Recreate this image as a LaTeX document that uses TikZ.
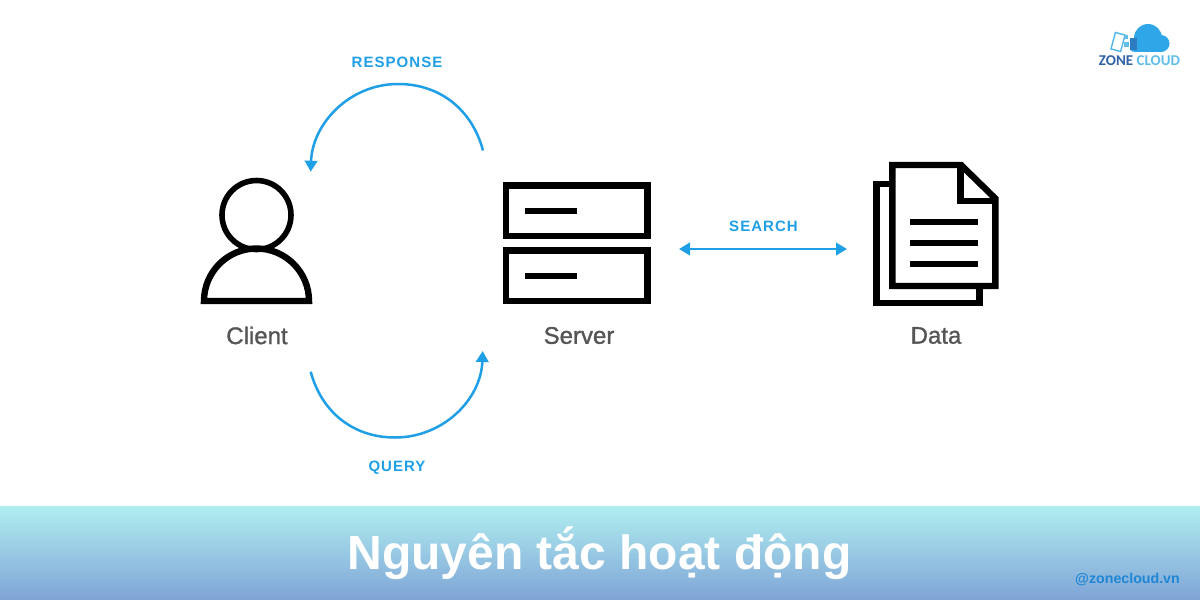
\documentclass[tikz,border=0pt]{standalone}
\usepackage{fontspec}
\setmainfont{Liberation Sans}
\newfontfamily\lblfont[FakeBold=1.2]{Liberation Sans}
\newfontfamily\capfont[LetterSpace=7]{Liberation Sans}
\newfontfamily\logofont{Carlito}
\usetikzlibrary{arrows.meta}
\definecolor{arrowblue}{HTML}{1F9FE6}
\definecolor{lblgray}{HTML}{555555}
\definecolor{bandtop}{HTML}{B0EEF0}
\definecolor{bandbot}{HTML}{7FA4D6}
\definecolor{cloudblue}{HTML}{2FA6E8}
\definecolor{zonedark}{HTML}{2F62A6}
\definecolor{zonelight}{HTML}{62BDEB}
\definecolor{handleblue}{HTML}{1E86D6}
\tikzset{
  icon/.style={line width=6.4pt,draw=black,line join=miter},
  srvbox/.style={icon,rectangle,inner sep=0pt,minimum width=141.6pt,minimum height=50.3pt},
  lbl/.style={font=\lblfont\fontsize{24}{28}\selectfont,text=lblgray},
  arrlbl/.style={font=\capfont\bfseries\fontsize{15}{18}\selectfont,text=arrowblue},
  flow/.style={line width=2.5pt,draw=arrowblue,-{Triangle[length=11pt,width=12.5pt]}},
}
\begin{document}
\begin{tikzpicture}[x=1pt,y=-1pt]
  \useasboundingbox (0,0) rectangle (1200,600);
  \fill[white] (0,0) rectangle (1200,600);
  \shade[top color=bandtop,bottom color=bandbot] (0,506) rectangle (1200,600);

  % client
  \draw[icon,line width=5.6pt] (256.5,215) circle[radius=34.5pt];
  \draw[icon] (204,301) arc[start angle=180,end angle=0,radius=52.5pt] -- cycle;

  % server
  \node[srvbox] (srv1) at (576.5,210.8) {};
  \node[srvbox] (srv2) at (576.5,275.8) {};
  \draw[icon] (524.7,210.7) -- (576.7,210.7);
  \draw[icon] (524.7,275.7) -- (576.7,275.7);

  % data
  \draw[icon] (889,183.7) -- (876.3,183.7) -- (876.3,302.7) -- (979.3,302.7) -- (979.3,286);
  \draw[icon] (892.3,165) -- (961,165) -- (995.3,198.5) -- (995.3,286) -- (892.3,286) -- cycle;
  \draw[icon] (960.3,165) -- (960.3,200.7) -- (995.3,200.7);
  \draw[icon] (910,221.7) -- (978,221.7);
  \draw[icon] (910,242.7) -- (978,242.7);
  \draw[icon] (910,263.7) -- (978,263.7);

  \node[lbl] (client) at (257,335.5) {Client};
  \node[lbl] (server) at (579,335.5) {Server};
  \node[lbl] (data) at (936,335.5) {Data};

  \node[arrlbl] (response) at (397,62) {RESPONSE};
  \node[arrlbl] (search) at (763.5,226) {SEARCH};
  \node[arrlbl] (query) at (397,467.5) {QUERY};

  \coordinate (respstart) at (483,150.5);
  \coordinate (resptop) at (398,84);
  \coordinate (respend) at (310.7,171.7);
  \coordinate (querystart) at (310.7,371.7);
  \coordinate (querybot) at (395,437.5);
  \coordinate (queryend) at (482.7,351);
  \coordinate (searchl) at (679,249);
  \coordinate (searchr) at (847,249);

  \draw[flow] (respstart) to[out=105,in=0] (resptop) to[out=180,in=88] (respend);
  \draw[flow] (querystart) to[out=-75,in=180] (querybot) to[out=0,in=-92] (queryend);
  \draw[flow,{Triangle[length=11pt,width=12.5pt]}-{Triangle[length=11pt,width=12.5pt]}] (searchl) -- (searchr);

  % logo
  \fill[cloudblue] (1148,38) circle[radius=14pt] (1161,43.5) circle[radius=8.5pt] (1135,45.5) circle[radius=6.5pt];
  \fill[cloudblue] (1135,42) rectangle (1161,52);
  \fill[white] (1122,33) rectangle (1129.5,53);
  \draw[zonelight!70!cloudblue,line width=1.4pt,rotate around={-15:(1118,42)}] (1113,33.5) rectangle (1123,50.5);
  \fill[zonedark!60!cloudblue] (1130,38) rectangle (1137,50);
  \fill[zonelight] (1124,35) rectangle (1128,39);
  \fill[zonelight] (1124,42) rectangle (1128.5,47);
  \node[font=\logofont\bfseries\fontsize{15}{18}\selectfont,inner sep=0pt] (logotxt) at (1139.5,60.2)
    {\textcolor{zonedark}{ZONE} \textcolor{zonelight}{CLOUD}};

  % band text
  \node[font=\bfseries\fontsize{48}{54}\selectfont,text=white] (title) at (599.5,553) {Nguyên tắc hoạt động};
  \node[font=\bfseries\fontsize{14.2}{16}\selectfont,text=handleblue,inner sep=0pt] (handle) at (1127.5,579) {@zonecloud.vn};
\end{tikzpicture}
\end{document}
